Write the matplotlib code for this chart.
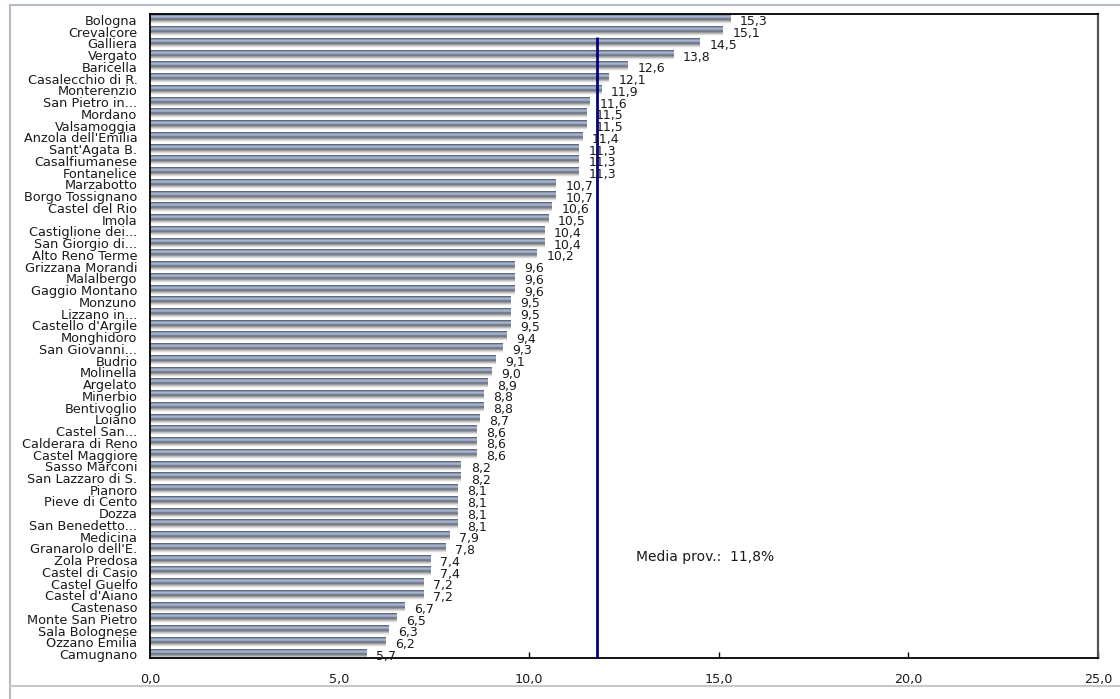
import matplotlib
matplotlib.use("Agg")
import matplotlib.pyplot as plt
import numpy as np
from matplotlib.colors import LinearSegmentedColormap
from matplotlib.lines import Line2D

COMUNI = [
    "Bologna", "Crevalcore", "Galliera", "Vergato", "Baricella",
    "Casalecchio di R.", "Monterenzio", "San Pietro in...", "Mordano",
    "Valsamoggia", "Anzola dell'Emilia", "Sant'Agata B.", "Casalfiumanese",
    "Fontanelice", "Marzabotto", "Borgo Tossignano", "Castel del Rio", "Imola",
    "Castiglione dei...", "San Giorgio di...", "Alto Reno Terme",
    "Grizzana Morandi", "Malalbergo", "Gaggio Montano", "Monzuno",
    "Lizzano in...", "Castello d'Argile", "Monghidoro", "San Giovanni...",
    "Budrio", "Molinella", "Argelato", "Minerbio", "Bentivoglio", "Loiano",
    "Castel San...", "Calderara di Reno", "Castel Maggiore", "Sasso Marconi",
    "San Lazzaro di S.", "Pianoro", "Pieve di Cento", "Dozza",
    "San Benedetto...", "Medicina", "Granarolo dell'E.", "Zola Predosa",
    "Castel di Casio", "Castel Guelfo", "Castel d'Aiano", "Castenaso",
    "Monte San Pietro", "Sala Bolognese", "Ozzano Emilia", "Camugnano",
]
VALORI = [
    15.3, 15.1, 14.5, 13.8, 12.6, 12.1, 11.9, 11.6, 11.5, 11.5, 11.4, 11.3,
    11.3, 11.3, 10.7, 10.7, 10.6, 10.5, 10.4, 10.4, 10.2, 9.6, 9.6, 9.6, 9.5,
    9.5, 9.5, 9.4, 9.3, 9.1, 9.0, 8.9, 8.8, 8.8, 8.7, 8.6, 8.6, 8.6, 8.2, 8.2,
    8.1, 8.1, 8.1, 8.1, 7.9, 7.8, 7.4, 7.4, 7.2, 7.2, 6.7, 6.5, 6.3, 6.2, 5.7,
]
MEDIA_PROV = 11.8
X_TICKS = [0, 5, 10, 15, 20, 25]


def fmt(v):
    return f"{v:.1f}".replace(".", ",")


plt.rcParams["font.family"] = ["DejaVu Sans"]
fig = plt.figure(figsize=(11.2, 6.99), dpi=100)
ax = fig.add_axes([0.1339, 0.0587, 0.8465, 0.9213])

# cylinder-like shading: dark rim, light core, soft grey shadow underneath
bar_cmap = LinearSegmentedColormap.from_list(
    "cyl",
    ["#4a5163", "#8794b0", "#b2bed6", "#93a0bb", "#5f687d",
     "#8f8f8f", "#bdbdbd", "#e4e4e4", "#ffffff"],
)
grad = np.linspace(0, 1, 64).reshape(-1, 1)
h_bar = 0.8

for i, v in enumerate(VALORI):
    top = i - 0.42
    ax.imshow(grad, cmap=bar_cmap, aspect="auto", interpolation="bilinear",
              extent=[0, v, top + h_bar, top], zorder=2)
    ax.annotate(fmt(v), (v, i), xytext=(7, -1.5), textcoords="offset points",
                ha="left", va="center", fontsize=9, color="#1a1a1a",
                zorder=4)

ymin, ymax = 54.32, -0.5
ax.plot([MEDIA_PROV, MEDIA_PROV], [1.5, ymin], color="#000080", lw=2,
        zorder=3, solid_capstyle="butt")
ax.text(12.82, 45.75, f"Media prov.:  {fmt(MEDIA_PROV)}%", fontsize=10,
        color="#1a1a1a", va="center", ha="left")

ax.set_xlim(0, 25)
ax.set_ylim(ymin, ymax)
ax.set_yticks(range(len(COMUNI)))
ax.set_yticklabels(COMUNI, fontsize=9.3, color="#1a1a1a")
ax.tick_params(axis="y", length=0, pad=9)
ax.set_xticks(X_TICKS)
ax.set_xticklabels([fmt(t) for t in X_TICKS], fontsize=9.2, color="#1a1a1a")
ax.tick_params(axis="x", direction="in", length=4, width=1, pad=11)
for side in ["left", "bottom", "top"]:
    ax.spines[side].set_color("#000000")
    ax.spines[side].set_linewidth(1.3)
ax.spines["right"].set_color("#555555")
ax.spines["right"].set_linewidth(1.6)

# outer chart frame
frame_kw = dict(transform=fig.transFigure, lw=1.5, color="#b4bac6")
fig.add_artist(Line2D([10 / 1120, 1], [1 - 5 / 699, 1 - 5 / 699], **frame_kw))
fig.add_artist(Line2D([10 / 1120, 10 / 1120], [0, 1 - 5 / 699], **frame_kw))
fig.add_artist(Line2D([10 / 1120, 1], [1 - 686 / 699, 1 - 686 / 699],
                      transform=fig.transFigure, lw=1.5, color="#c8c8c8"))

fig.savefig("out.png", dpi=100)
